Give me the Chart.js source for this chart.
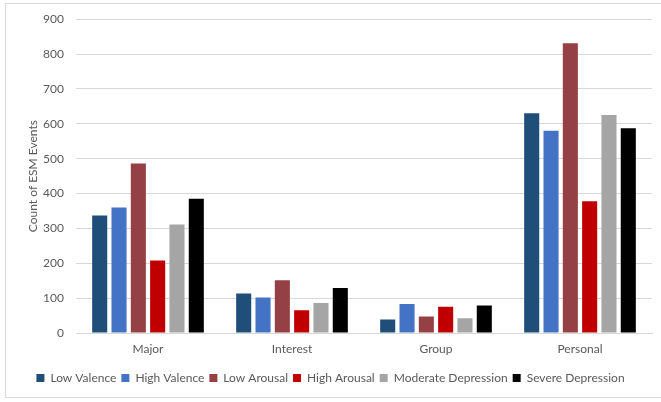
<!DOCTYPE html>
<html>
<head>
<meta charset="utf-8">
<script src="https://cdn.jsdelivr.net/npm/chart.js@4.4.1/dist/chart.umd.min.js"></script>
<style>
  html, body { margin: 0; padding: 0; background: #fff; }
  #wrap { position: relative; width: 661px; height: 402px; overflow: hidden; }
  #frame { position: absolute; left: 5px; top: 3px; width: 700px; height: 395px;
           border: 1px solid #d9d9d9; box-sizing: border-box; }
  canvas { position: absolute; left: 0; top: 0; }
</style>
</head>
<body>
<div id="wrap">
  <div id="frame"></div>
  <canvas id="chart" width="661" height="402"></canvas>
</div>
<script>
// categories and series
const categories = ["Major", "Interest", "Group", "Personal"];
const seriesNames = ["Low Valence", "High Valence", "Low Arousal", "High Arousal", "Moderate Depression", "Severe Depression"];
const seriesColors = ["#1f4e79", "#4472c4", "#954045", "#c00000", "#a5a5a5", "#000000"];
const lowValence = [337, 113, 39, 630];
const highValence = [360, 102, 83, 580];
const lowArousal = [486, 151, 47, 831];
const highArousal = [208, 65, 75, 378];
const moderateDepression = [311, 86, 42, 625];
const severeDepression = [385, 129, 79, 587];
const yTicks = [0, 100, 200, 300, 400, 500, 600, 700, 800, 900];

const seriesValues = [lowValence, highValence, lowArousal, highArousal, moderateDepression, severeDepression];
const FONT = "Lato, 'Open Sans', sans-serif";
const TEXT = "#595959";

new Chart(document.getElementById("chart").getContext("2d"), {
  type: "bar",
  data: {
    labels: categories,
    datasets: seriesNames.map((name, i) => ({
      label: name,
      data: seriesValues[i],
      backgroundColor: seriesColors[i],
      borderWidth: 0,
      categoryPercentage: 0.805,
      barPercentage: 0.78
    }))
  },
  options: {
    responsive: false,
    animation: false,
    devicePixelRatio: 1,
    layout: { padding: { top: 12, right: 9, bottom: 8, left: 9 } },
    plugins: {
      tooltip: { enabled: false },
      legend: {
        position: "bottom",
        labels: {
          font: { family: FONT, size: 12 }, color: TEXT,
          boxWidth: 8, boxHeight: 8, padding: 5
        }
      }
    },
    scales: {
      y: {
        min: 0, max: 900,
        afterBuildTicks: s => { s.ticks = yTicks.map(v => ({ value: v })); },
        afterFit: s => { s.width = 67; },
        grid: { color: "#d9d9d9", drawTicks: false },
        border: { display: false },
        ticks: { font: { family: FONT, size: 12 }, color: TEXT, padding: 12 },
        title: {
          display: true, text: "Count of ESM Events",
          font: { family: FONT, size: 12 }, color: TEXT,
          padding: { top: 17, bottom: 0 }
        }
      },
      x: {
        afterFit: s => { s.height = 34; },
        grid: { display: false, drawTicks: false },
        border: { display: true, color: "#d9d9d9" },
        ticks: { font: { family: FONT, size: 12 }, color: TEXT, padding: 9 }
      }
    }
  }
});
</script>
</body>
</html>
